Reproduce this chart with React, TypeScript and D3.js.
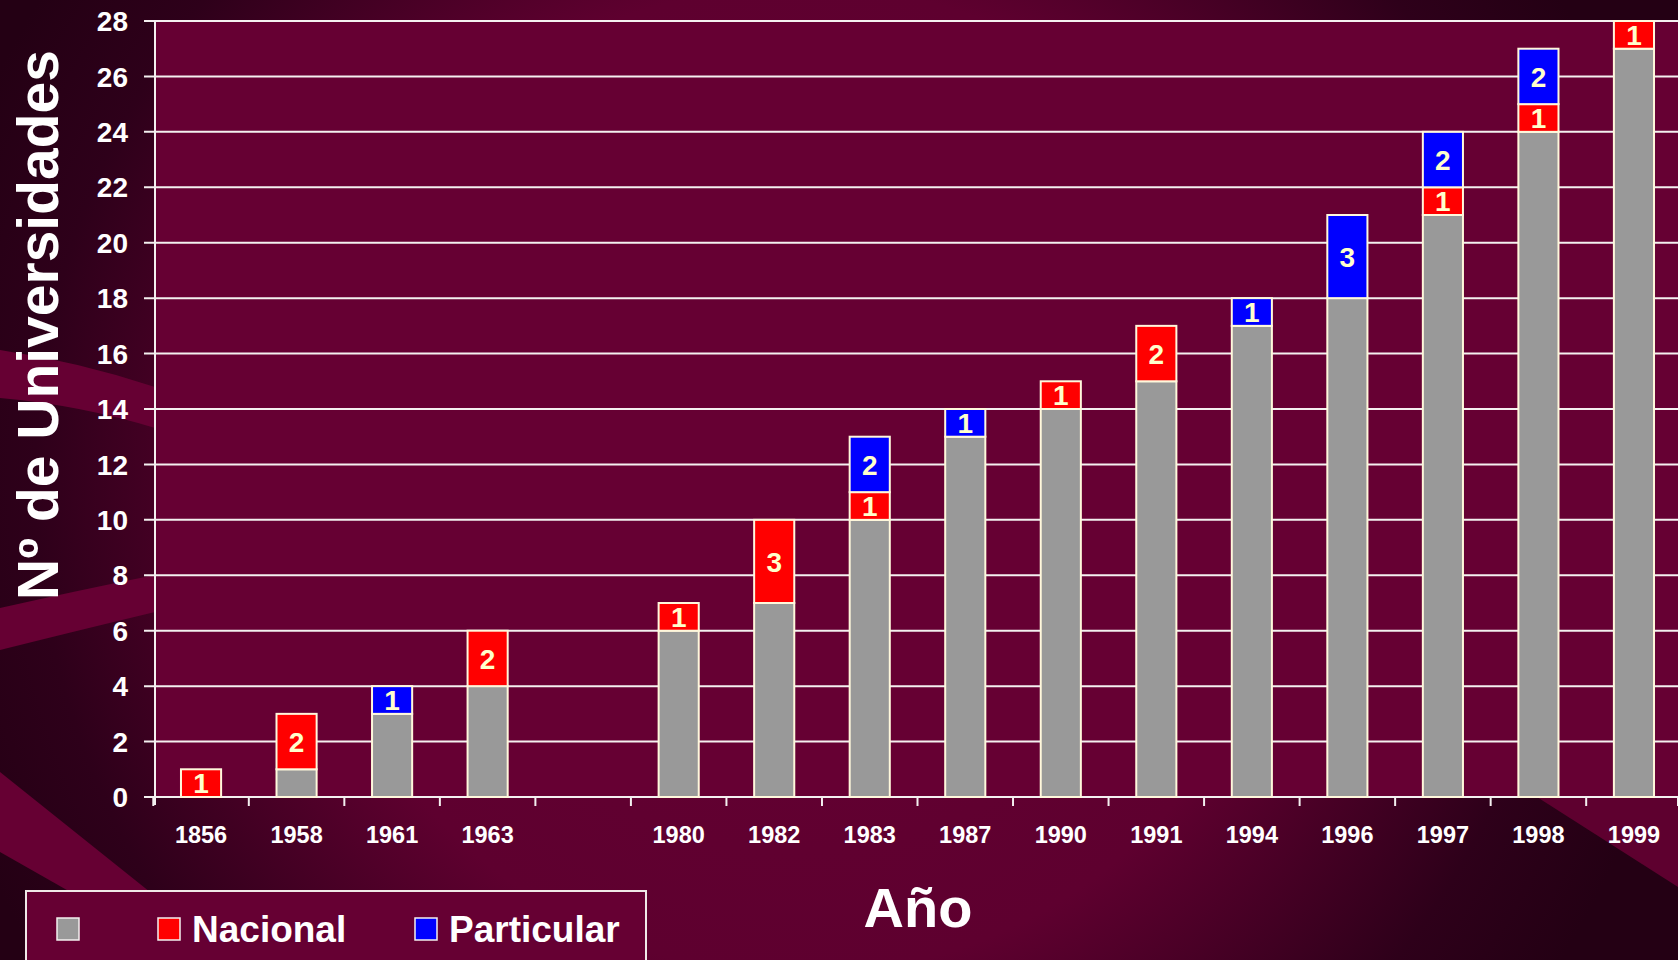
import React from 'react';
import * as d3 from 'd3';

// years on the x axis; '' is the empty slot between 1963 and 1980
const years = ['1856', '1958', '1961', '1963', '', '1980', '1982', '1983', '1987', '1990', '1991', '1994', '1996', '1997', '1998', '1999'];
const baseValues = [0, 1, 3, 4, 0, 6, 7, 10, 13, 14, 15, 17, 18, 21, 24, 27];
const nacionalValues = [1, 2, 0, 2, 0, 1, 3, 1, 0, 1, 2, 0, 0, 1, 1, 1];
const particularValues = [0, 0, 1, 0, 0, 0, 0, 2, 1, 0, 0, 1, 3, 2, 2, 0];
const yTicks = [0, 2, 4, 6, 8, 10, 12, 14, 16, 18, 20, 22, 24, 26, 28];

const seriesKeys = ['base', 'nacional', 'particular'];
const seriesColors = { base: '#999999', nacional: '#ff0000', particular: '#0000ff' };
const legendItems = [
  { key: 'base', label: '' },
  { key: 'nacional', label: 'Nacional' },
  { key: 'particular', label: 'Particular' },
];

const W = 1678;
const H = 960;
const FONT = '"Liberation Sans", Arial, sans-serif';

const App = () => {
  const left = 155;
  const right = 1678;
  const top = 21;
  const bottom = 797;

  const slots = years.map((y, i) => (y === '' ? 'gap' + i : y));

  const x = d3
    .scaleBand()
    .domain(slots)
    .range([left, 1680])
    .paddingInner(0.58)
    .paddingOuter(0.272);

  const y = d3.scaleLinear().domain([0, 28]).range([bottom, top]);

  const rows = slots.map((s, i) => ({
    slot: s,
    base: baseValues[i],
    nacional: nacionalValues[i],
    particular: particularValues[i],
  }));

  const stacked = d3.stack().keys(seriesKeys)(rows);

  const gap = (x.step() - x.bandwidth()) / 2;
  const boundaries = slots.map((s) => x(s) - gap).concat([right]);

  return (
    <svg width={W} height={H} style={{ position: 'absolute', left: 0, top: 0 }} fontFamily={FONT}>
      <defs>
        <radialGradient id="bg" cx="800" cy="480" r="900" gradientUnits="userSpaceOnUse">
          <stop offset="0" stopColor="#660033" />
          <stop offset="0.55" stopColor="#5e002f" />
          <stop offset="0.85" stopColor="#2e001a" />
          <stop offset="1" stopColor="#240014" />
        </radialGradient>
      </defs>

      {/* background */}
      <rect x={0} y={0} width={W} height={H} fill="url(#bg)" />
      <path d="M0,350 Q80,362 155,387 L155,428 Q80,405 0,398 Z" fill="#660033" />
      <path d="M0,608 Q80,590 155,575 L155,612 Q80,630 0,650 Z" fill="#660033" />
      <path d="M0,772 L235,960 L190,960 L0,852 Z" fill="#660033" />
      <path d="M1537,797 L1678,797 L1678,887 Z" fill="#5e002f" />

      {/* plot area */}
      <rect x={left} y={top} width={right - left} height={bottom - top} fill="#660033" />

      {/* grid + y labels */}
      {yTicks.map((t) => (
        <g key={t}>
          <line x1={144} x2={right} y1={y(t)} y2={y(t)} stroke="#f4f0f0" strokeWidth={2} />
          <text
            x={128}
            y={y(t)}
            dy="0.36em"
            textAnchor="end"
            fontSize={28}
            fontWeight="bold"
            fill="#ffffff"
          >
            {t}
          </text>
        </g>
      ))}

      {/* y axis line */}
      <line x1={left} x2={left} y1={top} y2={bottom + 8} stroke="#f4f0f0" strokeWidth={2} />

      {/* x ticks */}
      {boundaries.map((b, i) => (
        <line key={i} x1={b} x2={b} y1={bottom} y2={bottom + 9} stroke="#f4f0f0" strokeWidth={2} />
      ))}

      {/* bars */}
      {stacked.map((layer) => (
        <g key={layer.key}>
          {layer.map((d, i) =>
            d[1] - d[0] > 0 ? (
              <g key={i}>
                <rect
                  x={x(slots[i])}
                  y={y(d[1])}
                  width={x.bandwidth()}
                  height={y(d[0]) - y(d[1])}
                  fill={seriesColors[layer.key]}
                  stroke="#fff8dc"
                  strokeWidth={2}
                />
                {layer.key !== 'base' && (
                  <text
                    x={x(slots[i]) + x.bandwidth() / 2}
                    y={(y(d[0]) + y(d[1])) / 2}
                    dy="0.36em"
                    textAnchor="middle"
                    fontSize={28}
                    fontWeight="bold"
                    fill="#ffffcc"
                  >
                    {d[1] - d[0]}
                  </text>
                )}
              </g>
            ) : null
          )}
        </g>
      ))}

      {/* x labels */}
      {slots.map((s, i) => (
        <text
          key={s}
          x={x(s) + x.bandwidth() / 2}
          y={843}
          textAnchor="middle"
          fontSize={23.5}
          fontWeight="bold"
          fill="#ffffff"
        >
          {years[i]}
        </text>
      ))}

      {/* axis titles */}
      <text
        transform="translate(58,325) rotate(-90)"
        textAnchor="middle"
        fontSize={57}
        fontWeight="bold"
        fill="#ffffff"
      >
        Nº de Universidades
      </text>
      <text x={918} y={927} textAnchor="middle" fontSize={56} fontWeight="bold" fill="#ffffff">
        Año
      </text>

      {/* legend */}
      <rect x={26} y={891} width={620} height={90} fill="#660033" stroke="#f0e8e8" strokeWidth={2} />
      {legendItems.map((item, i) => {
        const lx = [57, 158, 415][i];
        return (
          <g key={item.key}>
            <rect x={lx} y={918} width={22} height={22} fill={seriesColors[item.key]} stroke="#f4f0f0" strokeWidth={1.5} />
            {item.label && (
              <text x={lx + 34} y={942} fontSize={37} fontWeight="bold" fill="#ffffff">
                {item.label}
              </text>
            )}
          </g>
        );
      })}
    </svg>
  );
};

export default App;
